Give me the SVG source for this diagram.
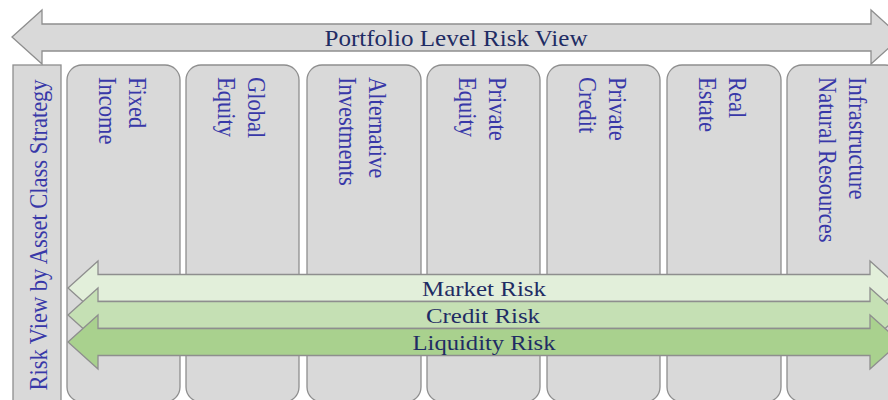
<svg xmlns="http://www.w3.org/2000/svg" width="888" height="400" viewBox="0 0 888 400">
<style>
.col{fill:#D9D9D9;stroke:#8E8E8E;stroke-width:1.3}
.arr{stroke:#8E8E8E;stroke-width:1.3;stroke-linejoin:miter}
.vt{font-family:"Liberation Serif","Times New Roman",serif;font-size:22.5px;fill:#3838A8}
.ht{font-family:"Liberation Serif","Times New Roman",serif;fill:#1F2C64;text-anchor:middle}
</style>
<rect width="888" height="400" fill="#FFFFFF"/>
<g id="portfolio-arrow">
<polygon class="arr" fill="#D9D9D9" points="12,37 42,10 42,24 871,24 871,10 901,37 871,64 871,51 42,51 42,64"/>
<text class="ht" x="456" y="46" font-size="24" textLength="263" lengthAdjust="spacingAndGlyphs">Portfolio Level Risk View</text>
</g>
<g id="asset-class-strategy">
<rect class="col" x="13" y="65" width="48" height="345"/>
<text class="vt" text-anchor="middle" transform="translate(47,235) rotate(-90) scale(1,1.15)">Risk View by Asset Class Strategy</text>
</g>
<g id="fixed-income">
<rect class="col" x="67" y="65" width="113" height="337" rx="15"/>
<text class="vt" transform="translate(129,77) rotate(90) scale(1,1.15)">Fixed</text>
<text class="vt" transform="translate(99,77) rotate(90) scale(1,1.15)">Income</text>
</g>
<g id="global-equity">
<rect class="col" x="186" y="65" width="113" height="337" rx="15"/>
<text class="vt" transform="translate(248,77) rotate(90) scale(1,1.15)">Global</text>
<text class="vt" transform="translate(218,77) rotate(90) scale(1,1.15)">Equity</text>
</g>
<g id="alternative-investments">
<rect class="col" x="307" y="65" width="114" height="337" rx="15"/>
<text class="vt" transform="translate(369,77) rotate(90) scale(1,1.15)">Alternative</text>
<text class="vt" transform="translate(339,77) rotate(90) scale(1,1.15)">Investments</text>
</g>
<g id="private-equity">
<rect class="col" x="427" y="65" width="113" height="337" rx="15"/>
<text class="vt" transform="translate(489,77) rotate(90) scale(1,1.15)">Private</text>
<text class="vt" transform="translate(459,77) rotate(90) scale(1,1.15)">Equity</text>
</g>
<g id="private-credit">
<rect class="col" x="547" y="65" width="113" height="337" rx="15"/>
<text class="vt" transform="translate(609,77) rotate(90) scale(1,1.15)">Private</text>
<text class="vt" transform="translate(579,77) rotate(90) scale(1,1.15)">Credit</text>
</g>
<g id="real-estate">
<rect class="col" x="667" y="65" width="114" height="337" rx="15"/>
<text class="vt" transform="translate(729,77) rotate(90) scale(1,1.15)">Real</text>
<text class="vt" transform="translate(699,77) rotate(90) scale(1,1.15)">Estate</text>
</g>
<g id="infrastructure">
<rect class="col" x="787" y="65" width="113" height="337" rx="15"/>
<text class="vt" transform="translate(849,77) rotate(90) scale(1,1.15)">Infrastructure</text>
<text class="vt" transform="translate(819,77) rotate(90) scale(1,1.15)">Natural Resources</text>
</g>
<g id="connectors">
<g id="market-risk">
<polygon class="arr" fill="#E2EFDA" points="68,288 98,261 98,274.5 870,274.5 870,261 900,288 870,315 870,301.5 98,301.5 98,315"/>
<text class="ht" x="484" y="296" font-size="21.5" textLength="124" lengthAdjust="spacingAndGlyphs">Market Risk</text>
</g>
<g id="credit-risk">
<polygon class="arr" fill="#C5E0B4" points="68,315 98,288 98,301.5 870,301.5 870,288 900,315 870,342 870,328.5 98,328.5 98,342"/>
<text class="ht" x="483" y="323" font-size="21.5" textLength="114" lengthAdjust="spacingAndGlyphs">Credit Risk</text>
</g>
<g id="liquidity-risk">
<polygon class="arr" fill="#A9D18E" points="68,342 98,315 98,328.5 870,328.5 870,315 900,342 870,369 870,355.5 98,355.5 98,369"/>
<text class="ht" x="484" y="350" font-size="21.5" textLength="143" lengthAdjust="spacingAndGlyphs">Liquidity Risk</text>
</g>
</g>
</svg>
